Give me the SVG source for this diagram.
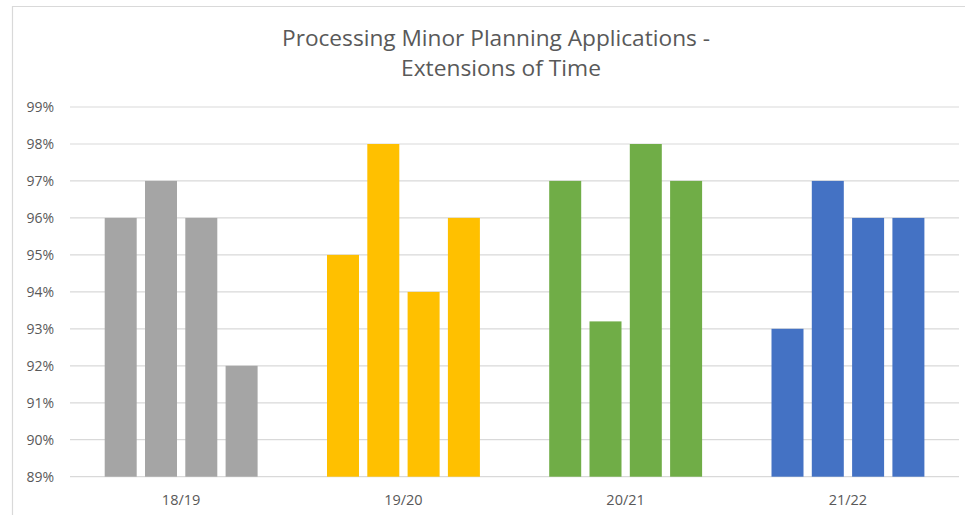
<svg xmlns="http://www.w3.org/2000/svg" width="965" height="515" viewBox="0 0 965 515">
  <style>
    .frame { fill: none; stroke: #D9D9D9; stroke-width: 1.2; }
    .grid { stroke: #D9D9D9; stroke-width: 1.2; }
    .title { font-family: "Open Sans", "Liberation Sans", sans-serif; font-size: 22px; fill: #595959; text-anchor: middle; }
    .ylab { font-family: "Open Sans", "Liberation Sans", sans-serif; font-size: 14px; fill: #595959; text-anchor: end; }
    .xlab { font-family: "Open Sans", "Liberation Sans", sans-serif; font-size: 14.5px; fill: #595959; text-anchor: middle; }
    .s1819 { fill: #A5A5A5; }
    .s1920 { fill: #FFC000; }
    .s2021 { fill: #70AD47; }
    .s2122 { fill: #4472C4; }
  </style>
  <rect width="965" height="515" fill="#FFFFFF"/>
  <!-- chart area frame (extends past right and bottom edges) -->
  <path class="frame" d="M12.5,520 V6.5 H970"/>

  <g id="title">
    <text class="title" x="496" y="46" textLength="428" lengthAdjust="spacingAndGlyphs">Processing Minor Planning Applications -</text>
    <text class="title" x="501" y="76" textLength="200" lengthAdjust="spacingAndGlyphs">Extensions of Time</text>
  </g>

  <!-- horizontal gridlines, 89% to 99% -->
  <g id="gridlines">
    <line class="grid" x1="70" x2="959" y1="107" y2="107"/>
    <line class="grid" x1="70" x2="959" y1="144" y2="144"/>
    <line class="grid" x1="70" x2="959" y1="180.9" y2="180.9"/>
    <line class="grid" x1="70" x2="959" y1="217.9" y2="217.9"/>
    <line class="grid" x1="70" x2="959" y1="254.9" y2="254.9"/>
    <line class="grid" x1="70" x2="959" y1="291.9" y2="291.9"/>
    <line class="grid" x1="70" x2="959" y1="328.8" y2="328.8"/>
    <line class="grid" x1="70" x2="959" y1="365.8" y2="365.8"/>
    <line class="grid" x1="70" x2="959" y1="402.8" y2="402.8"/>
    <line class="grid" x1="70" x2="959" y1="439.7" y2="439.7"/>
    <line class="grid" x1="70" x2="959" y1="476.7" y2="476.7"/>
  </g>

  <g id="y-axis">
    <text class="ylab" x="54" y="112">99%</text>
    <text class="ylab" x="54" y="149">98%</text>
    <text class="ylab" x="54" y="186">97%</text>
    <text class="ylab" x="54" y="223">96%</text>
    <text class="ylab" x="54" y="260">95%</text>
    <text class="ylab" x="54" y="297">94%</text>
    <text class="ylab" x="54" y="334">93%</text>
    <text class="ylab" x="54" y="371">92%</text>
    <text class="ylab" x="54" y="408">91%</text>
    <text class="ylab" x="54" y="445">90%</text>
    <text class="ylab" x="54" y="482">89%</text>
  </g>

  <g id="bars-1819">
    <rect class="s1819" x="104.7" y="217.9" width="32" height="258.8"/>
    <rect class="s1819" x="145.0" y="180.9" width="32" height="295.8"/>
    <rect class="s1819" x="185.3" y="217.9" width="32" height="258.8"/>
    <rect class="s1819" x="225.6" y="365.8" width="32" height="110.9"/>
  </g>
  <g id="bars-1920">
    <rect class="s1920" x="327.0" y="254.9" width="32" height="221.8"/>
    <rect class="s1920" x="367.3" y="144.0" width="32" height="332.7"/>
    <rect class="s1920" x="407.6" y="291.9" width="32" height="184.8"/>
    <rect class="s1920" x="447.9" y="217.9" width="32" height="258.8"/>
  </g>
  <g id="bars-2021">
    <rect class="s2021" x="549.2" y="180.9" width="32" height="295.8"/>
    <rect class="s2021" x="589.5" y="321.4" width="32" height="155.3"/>
    <rect class="s2021" x="629.8" y="144.0" width="32" height="332.7"/>
    <rect class="s2021" x="670.1" y="180.9" width="32" height="295.8"/>
  </g>
  <g id="bars-2122">
    <rect class="s2122" x="771.5" y="328.8" width="32" height="147.9"/>
    <rect class="s2122" x="811.8" y="180.9" width="32" height="295.8"/>
    <rect class="s2122" x="852.1" y="217.9" width="32" height="258.8"/>
    <rect class="s2122" x="892.4" y="217.9" width="32" height="258.8"/>
  </g>

  <g id="x-axis">
    <text class="xlab" x="181.1" y="505">18/19</text>
    <text class="xlab" x="403.4" y="505">19/20</text>
    <text class="xlab" x="625.6" y="505">20/21</text>
    <text class="xlab" x="847.9" y="505">21/22</text>
  </g>
</svg>
